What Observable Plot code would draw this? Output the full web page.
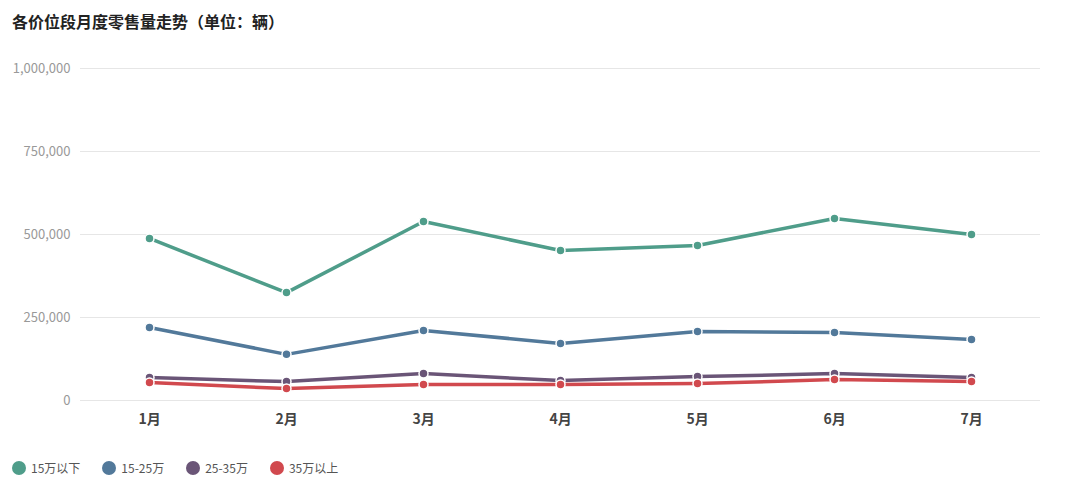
<!DOCTYPE html>
<html><head><meta charset="utf-8">
<script src="https://cdn.jsdelivr.net/npm/d3@7"></script>
<script src="https://cdn.jsdelivr.net/npm/@observablehq/plot@0.6"></script>
<style>
body{margin:0;background:#fff;font-family:"Noto Sans CJK SC","Noto Sans",sans-serif;}
#title{height:45px;box-sizing:border-box;padding:9px 0 0 12px;font-size:16px;font-weight:bold;color:#222;}
#legend{display:flex;gap:22px;padding:14px 0 0 12px;font-size:12px;color:#555;}
#legend span{display:flex;align-items:center;gap:5px;}
#legend i{display:inline-block;width:14px;height:14px;border-radius:50%;}
</style></head><body>
<div id="title">各价位段月度零售量走势（单位：辆）</div>
<div id="chart"></div>
<div id="legend"></div>
<script>
const months = ["1月","2月","3月","4月","5月","6月","7月"];
const seriesNames = ["15万以下","15-25万","25-35万","35万以上"];
const colors = ["#4f9d8a","#52799a","#6a5577","#d1494e"];
const s1 = [488000,325000,539000,452000,467000,548000,500000];
const s2 = [220000,139000,211000,172000,208000,205000,184000];
const s3 = [69000,57000,81000,60000,72000,81000,69000];
const s4 = [54000,36000,48000,48000,51000,63000,57000];
const yTicks = [0,250000,500000,750000,1000000];
const all = [s1,s2,s3,s4];
const data = all.flatMap((s,i)=>s.map((v,j)=>({m:months[j],v,s:seriesNames[i]})));
const chart = Plot.plot({
  width:1080,height:400,marginLeft:80,marginRight:40,marginTop:23,marginBottom:45,
  style:{fontSize:"13px",fontFamily:"Noto Sans CJK SC, sans-serif"},
  x:{type:"point",domain:months,padding:0.5,label:null,tickSize:0,tickPadding:14},
  y:{domain:[0,1000000],ticks:yTicks,tickFormat:d3.format(","),label:null,tickSize:0,tickPadding:10,grid:false},
  color:{domain:seriesNames,range:colors},
  marks:[
    Plot.gridY(yTicks,{stroke:"#e6e6e6",strokeOpacity:1}),
    Plot.axisY({ticks:yTicks,tickFormat:d3.format(","),tickSize:0,tickPadding:10,fill:"#999",label:null}),
    Plot.axisX({tickSize:0,tickPadding:14,fill:"#444",fontWeight:"bold",fontSize:14,label:null}),
    Plot.line(data,{x:"m",y:"v",stroke:"s",strokeWidth:3.5}),
    Plot.dot(data,{x:"m",y:"v",fill:"s",stroke:"#fff",strokeWidth:1.5,r:4.5})
  ]
});
document.getElementById("chart").appendChild(chart);
document.getElementById("legend").innerHTML = seriesNames.map((n,i)=>`<span><i style="background:${colors[i]}"></i>${n}</span>`).join("");
</script></body></html>
